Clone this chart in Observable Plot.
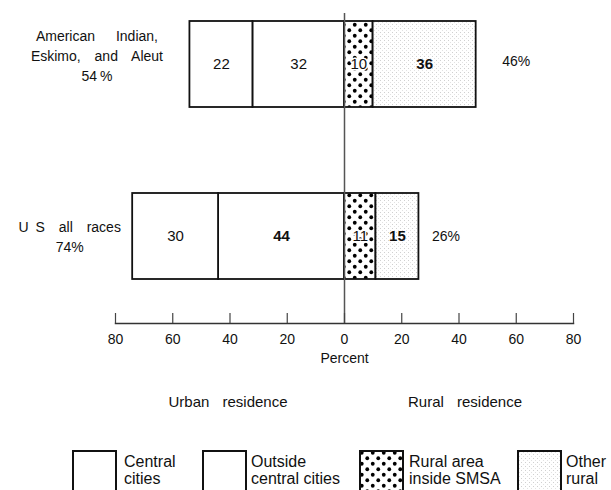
<!DOCTYPE html>
<html>
<head>
<meta charset="utf-8">
<script src="https://cdn.jsdelivr.net/npm/d3@7"></script>
<script src="https://cdn.jsdelivr.net/npm/@observablehq/plot@0.6"></script>
<style>
  body { margin: 0; background: #fff; font-family: "Liberation Sans", Arial, sans-serif; color: #111; }
  #wrap { position: relative; width: 611px; height: 490px; overflow: hidden; }
  #chart { position: absolute; left: 0; top: 0; }
  .res { position: absolute; top: 393px; font-size: 15px; word-spacing: 9px; white-space: nowrap; transform: translateX(-50%); }
  .sw { position: absolute; top: 450px; }
  .lt { position: absolute; top: 453px; font-size: 16px; line-height: 17px; white-space: nowrap; }
</style>
</head>
<body>
<div id="wrap">
  <div id="chart"></div>
  <div id="bottom"></div>
</div>
<script>
// ---- data ----
const groups = ["American Indian, Eskimo, and Aleut", "U S all races"];
const groupLabels = ["American\u2002 Indian,\nEskimo, and Aleut", "U\u2002S all races"];
const categories = ["Central cities", "Outside central cities", "Rural area inside SMSA", "Other rural"];
const aieaValues = [22, 32, 10, 36];
const usValues = [30, 44, 11, 15];
const urbanTotals = [54, 74];
const ruralTotals = [46, 26];
const urbanTotalLabels = ["54\u2009%", "74%"];
const ruralTotalLabels = ["46%", "26%"];
const xTicks = [-80, -60, -40, -20, 0, 20, 40, 60, 80];
const residenceLabels = ["Urban residence", "Rural residence"];
const legendLabels = ["Central\ncities", "Outside\ncentral cities", "Rural area\ninside SMSA", "Other\nrural"];

// ---- styling (not data) ----
const fills = ["white", "white", "url(#dots)", "url(#stipple)"];
const urbanCats = new Set(["Central cities", "Outside central cities"]);
const boldKeys = new Set(["0|Other rural", "1|Outside central cities", "1|Other rural"]);
const stackOrder = [1, 0, 2, 3]; // outside central cities sits next to zero

const seriesValues = [aieaValues, usValues];
const table = [];
groups.forEach((g, gi) => {
  stackOrder.forEach(ci => {
    const cat = categories[ci];
    const v = seriesValues[gi][ci];
    table.push({group: g, gi, category: cat, value: v, signed: urbanCats.has(cat) ? -v : v});
  });
});
const rows = groups.map((g, i) => ({
  group: g, i, label: groupLabels[i] + "\n" + urbanTotalLabels[i],
  urban: urbanTotals[i], rural: ruralTotals[i], ruralLabel: ruralTotalLabels[i]
}));
const isBold = d => boldKeys.has(d.gi + "|" + d.category);

const plot = Plot.plot({
  width: 611,
  height: 375,
  marginTop: 13,
  marginBottom: 52,
  marginLeft: 115,
  marginRight: 38,
  style: {fontFamily: "'Liberation Sans', Arial, sans-serif", fontSize: "14px", wordSpacing: "10px", background: "white", color: "#111"},
  x: {domain: [-80, 80], axis: null},
  y: {domain: groups, range: [20, 279], paddingInner: 0.5, paddingOuter: 0, axis: null},
  color: {domain: categories, range: fills},
  marks: [
    Plot.barX(table, Plot.stackX({x: "signed", y: "group", fill: "category", stroke: "#111", strokeWidth: 1.8})),
    Plot.ruleX([0], {stroke: "#555", strokeWidth: 1.5}),
    Plot.frame({anchor: "bottom", stroke: "#333", strokeWidth: 1.5}),
    Plot.ruleX(xTicks, {x: d => d, insetTop: 300, stroke: "#444", strokeWidth: 1.2}),
    Plot.text(xTicks, {x: d => d, text: d => String(Math.abs(d)), frameAnchor: "bottom", dy: 20, fontSize: 14}),
    Plot.text(["Percent"], {x: [0], text: d => d, frameAnchor: "bottom", dy: 39, fontSize: 14}),
    Plot.text(table, Plot.stackX({x: "signed", y: "group", text: d => isBold(d) ? null : String(d.value), fontSize: 15, stroke: "white", strokeWidth: 3, fill: "#111"})),
    Plot.text(table, Plot.stackX({x: "signed", y: "group", text: d => isBold(d) ? String(d.value) : null, fontSize: 15, fontWeight: "bold", fill: "#111"})),
    Plot.text(rows, {filter: d => d.i === 0, x: d => -d.urban, y: "group", text: "label", textAnchor: "middle", lineHeight: 1.45, dx: -93, dy: -10, fontSize: 14}),
    Plot.text(rows, {filter: d => d.i === 1, x: d => -d.urban, y: "group", text: "label", textAnchor: "middle", lineHeight: 1.45, dx: -63, dy: -1, fontSize: 14}),
    Plot.text(rows, {filter: d => d.i === 0, x: "rural", y: "group", text: "ruralLabel", textAnchor: "start", dx: 26, dy: -3, fontSize: 14}),
    Plot.text(rows, {filter: d => d.i === 1, x: "rural", y: "group", text: "ruralLabel", textAnchor: "start", dx: 13, fontSize: 14})
  ]
});

// pattern definitions
const defs = d3.select(plot).insert("defs", ":first-child");
const dots = defs.append("pattern").attr("id", "dots").attr("width", 11).attr("height", 11).attr("patternUnits", "userSpaceOnUse");
dots.append("rect").attr("width", 11).attr("height", 11).attr("fill", "white");
dots.append("circle").attr("cx", 2.75).attr("cy", 2.75).attr("r", 1.9).attr("fill", "black");
dots.append("circle").attr("cx", 8.25).attr("cy", 8.25).attr("r", 1.9).attr("fill", "black");
const st = defs.append("pattern").attr("id", "stipple").attr("width", 4).attr("height", 4).attr("patternUnits", "userSpaceOnUse");
st.append("rect").attr("width", 4).attr("height", 4).attr("fill", "white");
st.append("rect").attr("x", 0).attr("y", 0).attr("width", 1).attr("height", 1).attr("fill", "#d0d0d0");
st.append("rect").attr("x", 2).attr("y", 2).attr("width", 1).attr("height", 1).attr("fill", "#e2e2e2");

document.getElementById("chart").appendChild(plot);

// residence labels and legend
const bottom = document.getElementById("bottom");
const resX = [228, 465];
residenceLabels.forEach((t, i) => {
  const d = document.createElement("div");
  d.className = "res";
  d.style.left = resX[i] + "px";
  d.textContent = t;
  bottom.appendChild(d);
});
const swX = [73, 203, 360, 518];
const txX = [124, 251, 409, 566];
legendLabels.forEach((t, i) => {
  const s = d3.create("svg").attr("class", "sw").attr("width", 46).attr("height", 46)
    .style("left", (swX[i] - 1) + "px");
  s.append("rect").attr("x", 1).attr("y", 1).attr("width", 43).attr("height", 60)
    .attr("fill", fills[i]).attr("stroke", "#111").attr("stroke-width", 2);
  bottom.appendChild(s.node());
  const d = document.createElement("div");
  d.className = "lt";
  d.style.left = txX[i] + "px";
  d.innerText = t;
  bottom.appendChild(d);
});
</script>
</body>
</html>
